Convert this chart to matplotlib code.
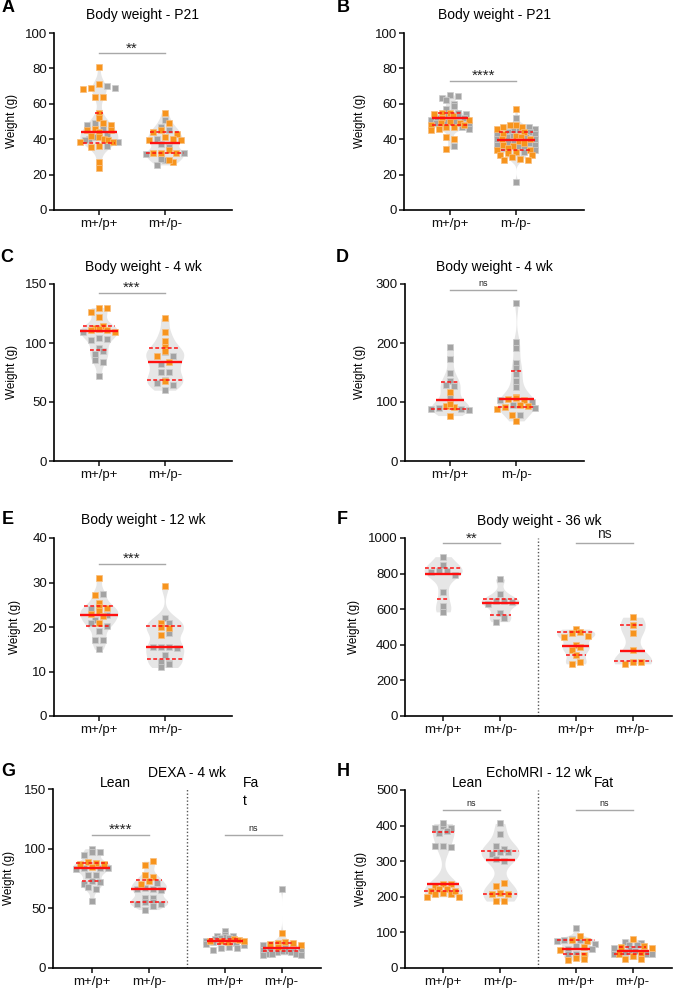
import numpy as np
import matplotlib
matplotlib.use("Agg")
import matplotlib.pyplot as plt

plt.rcParams['font.family'] = ['Liberation Sans', 'DejaVu Sans']

FIG_W, FIG_H = 674, 990

# ---------------- data ----------------
TWO = ["m+/p+", "m+/p-"]
TWO_B = ["m+/p+", "m-/p-"]
FOUR = ["m+/p+", "m+/p-", "m+/p+", "m+/p-"]

A_title = "Body weight - P21"
A_gray = [[70, 69, 49, 48, 45.5, 43, 41, 40, 39.5, 38.5, 36],
          [51, 47, 45, 40, 37.5, 35.5, 31.5, 32, 28, 29, 25.5]]
A_orange = [[81, 71, 69, 68.5, 64, 64, 55, 52, 49, 48, 46, 45, 45, 44, 42, 41, 40, 39.5,
             38.5, 38.5, 36, 35.5, 27, 24],
            [55, 49, 45, 43, 44, 41, 39.5, 39.5, 40, 34, 32.3, 32.3, 32.3, 27.3, 28.2]]
A_med, A_q1, A_q3 = [44, 38], [38, 32], [55, 44]

B_title = "Body weight - P21"
B_gray = [[65, 64.5, 63, 62, 60, 58.5, 57, 55, 54, 53, 53, 52, 52, 51, 50, 50, 49, 48, 47, 46, 36],
          [52, 47, 46, 45, 45, 44, 44, 43, 43, 42, 41, 41, 40, 40, 39, 38, 38, 37, 37, 36, 35, 35,
           34, 33, 16]]
B_orange = [[55, 55, 54, 53, 52, 51, 50, 49, 49, 48, 48, 47, 47, 46, 45, 41, 40, 34.5],
            [57, 48, 48, 47, 47, 46, 44, 43, 42, 41, 40, 40, 39, 38, 37, 36, 35, 34, 34, 33, 32,
             31, 31, 30, 29, 28, 28]]
B_med, B_q1, B_q3 = [52, 39.5], [48, 34], [55, 44]

C_title = "Body weight - 4 wk"
C_gray = [[109.5, 104.5, 103.5, 102.5, 96, 93, 91, 86, 84, 72],
          [92, 89, 82, 75.5, 75.5, 69, 66.5, 64.5, 60]]
C_orange = [[130, 130, 126.5, 122, 114, 113, 112, 111, 111, 109],
            [121, 109, 102, 97, 93, 89, 83.5, 68]]
C_med, C_q1, C_q3 = [110, 83.5], [94, 69], [114, 96]

D_title = "Body weight - 4 wk"
D_gray = [[194, 173, 149, 136, 129, 127, 109, 87.5, 86.5, 89, 87.5],
          [267, 201, 191, 165.5, 157, 147.5, 136, 126, 103.5, 99.5, 89, 95, 78]]
D_orange = [[117, 93, 92, 96.5, 77],
            [109, 103.5, 104.5, 106, 93, 91, 87.5, 95, 78, 68]]
D_med, D_q1, D_q3 = [103, 105], [88, 92], [134, 152]

E_title = "Body weight - 12 wk"
E_gray = [[27.5, 24, 22.7, 21.6, 20.9, 20.3, 19, 17, 17, 15],
          [22, 21, 18.6, 15.4, 15.2, 15.4, 15.4, 13.7, 12, 12.2, 11.7, 10.9]]
E_orange = [[31, 27.3, 25.3, 24.2, 24.5, 23, 23.5, 22.4, 21],
            [29.2, 20.9, 19.7, 19.9, 18.1]]
E_med, E_q1, E_q3 = [22.8, 15.4], [20.3, 12.9], [24.8, 20.3]

F_title = "Body weight - 36 wk"
F_gray = [[895, 850, 815, 807, 793, 815, 698, 620, 585],
          [770, 685, 645, 640, 645, 630, 578, 550, 530],
          [], []]
F_orange = [[], [],
            [488, 470, 468, 448, 445, 400, 390, 372, 340, 293, 302],
            [555, 510, 465, 368, 293, 306, 306]]
F_med, F_q1, F_q3 = [800, 635, 395, 365], [660, 565, 340, 308], [830, 660, 470, 510]

G_title = "DEXA - 4 wk"
G_sub = ["Lean", "Fa\nt"]
G_gray = [[100, 97, 97, 95, 84, 83.5, 83.5, 83, 78, 78, 73, 72, 70, 68, 66, 56],
          [71.5, 66, 66, 67, 65, 59, 59, 55, 54, 55.5, 54, 52, 49],
          [31, 28, 27, 27, 26, 25, 25, 24, 23, 22, 21, 20, 19, 18, 17, 17, 15],
          [66.5, 19, 18, 17, 16, 15, 15, 14, 14, 13, 13, 12, 12, 12, 11, 11]]
G_orange = [[88.5, 88, 87, 87, 85],
            [89.5, 86, 78, 76, 72.5, 70],
            [24, 23.5, 23, 23, 22.5, 22],
            [29.5, 22, 21, 21, 20, 19, 18]]
G_med, G_q1, G_q3 = [83.5, 66.5, 22.5, 17], [73, 55, 20, 14], [88, 74, 24.5, 21]

H_title = "EchoMRI - 12 wk"
H_sub = ["Lean", "Fat"]
H_gray = [[392, 399, 392, 406, 378, 386, 342, 341, 342],
          [406, 376, 343, 327, 320, 333, 327, 300, 305],
          [111, 82, 78, 78, 75, 68, 62, 54, 54, 40, 40],
          [73, 71, 64, 64, 55, 50, 47, 45, 40, 40, 40]]
H_orange = [[228, 217, 235, 237, 223, 223, 200, 207, 207, 200, 210, 215],
            [238, 231, 208, 211, 208, 188, 188],
            [90, 80, 77, 59, 50, 36, 29, 26, 22],
            [82, 62, 59, 55, 43, 40, 35, 26, 24]]
H_med, H_q1, H_q3 = [235, 302, 54, 47], [217, 208, 40, 40], [382, 329, 78, 60]

# ---------------- style ----------------
ORANGE = '#F7941D'
ORANGE_EDGE = '#F9BE7C'
GRAY = '#A3A3A3'
GRAY_EDGE = '#CDCDCD'
VIOLIN = '#E6E6E6'
RED = '#FF1010'
SIGC = '#A8A8A8'
HW_PX = 19.0
COL_PX = 8.0
ROW_PX = 4.5
MAX_SPREAD_PX = 19.0

fig = plt.figure(figsize=(FIG_W / 100, FIG_H / 100), dpi=100)


def px_rect(l, t, r, b):
    return [l / FIG_W, 1 - b / FIG_H, (r - l) / FIG_W, (b - t) / FIG_H]


def ftext(x, y, s, **kw):
    fig.text(x / FIG_W, 1 - y / FIG_H, s, **kw)


def row_offsets(vals, ppu_y):
    order = np.argsort(vals, kind='stable')
    offs = np.zeros(len(vals))
    rows, cur, start = [], [], None
    for idx in order:
        v = vals[idx]
        if start is None or (v - start) * ppu_y > ROW_PX:
            if cur:
                rows.append(cur)
            cur, start = [idx], v
        else:
            cur.append(idx)
    if cur:
        rows.append(cur)
    for r_i, row in enumerate(rows):
        n = len(row)
        step = COL_PX if n < 2 else min(COL_PX, 2 * MAX_SPREAD_PX / (n - 1))
        # mix order inside the row (alternate ends) so colours interleave
        mixed = row[0::2] + row[1::2][::-1]
        if r_i % 2:
            mixed = mixed[::-1]
        for i, idx in enumerate(mixed):
            offs[idx] = (i - (n - 1) / 2) * step
    return offs


def draw_panel(rect_px, ymax, yticks, xlim, positions, labels, gray, orange,
               med, q1, q3, sigs, divider=None):
    l, t, r, b = rect_px
    ax = fig.add_axes(px_rect(l, t, r, b))
    ppu_y = (b - t) / ymax
    ppu_x = (r - l) / (xlim[1] - xlim[0])
    for i, pos in enumerate(positions):
        vals = np.array(list(gray[i]) + list(orange[i]), float)
        kinds = np.array([0] * len(gray[i]) + [1] * len(orange[i]))
        sd = vals.std(ddof=1)
        bw = 0.6 * sd * len(vals) ** (-0.2)
        grid = np.linspace(vals.min(), vals.max(), 400)
        dens = np.exp(-0.5 * ((grid[None, :] - vals[:, None]) / bw) ** 2).sum(axis=0)
        hw = dens / dens.max() * HW_PX / ppu_x
        ax.fill_betweenx(grid, pos - hw, pos + hw, color=VIOLIN, lw=0, zorder=1)
        offs = row_offsets(vals, ppu_y) / ppu_x
        for k, face, edge in ((0, GRAY, GRAY_EDGE), (1, ORANGE, ORANGE_EDGE)):
            m = kinds == k
            if m.any():
                ax.plot(pos + offs[m], vals[m], ls='none', marker='s', ms=3.8,
                        mfc=face, mec=edge, mew=0.5, zorder=2)
        for y, ls, lw in ((med[i], '-', 1.7), (q1[i], (0, (2.5, 1.6)), 1.1),
                          (q3[i], (0, (2.5, 1.6)), 1.1)):
            w = np.interp(y, grid, hw)
            ax.plot([pos - w, pos + w], [y, y], color=RED, ls=ls, lw=lw, zorder=3,
                    solid_capstyle='butt')
    for x1, x2, y, txt, kind in sigs:
        ax.plot([x1, x2], [y, y], color=SIGC, lw=1.0, zorder=2, clip_on=False)
        if kind == 'star':
            fs, off = 11, 0.5
        elif kind == 'small':
            fs, off = 6.5, 3.0
        else:
            fs, off = 10, 3.5
        ax.annotate(txt, ((x1 + x2) / 2, y), xytext=(0, off), textcoords='offset points',
                    ha='center', va='baseline', fontsize=fs, color='#222222')
    if divider is not None:
        ax.axvline(divider, color='#555555', ls=(0, (1, 1.5)), lw=1.0, zorder=0)
    ax.set_xlim(*xlim)
    ax.set_ylim(0, ymax)
    ax.set_yticks(yticks)
    ax.set_xticks(positions)
    ax.set_xticklabels(labels)
    for s in ('top', 'right'):
        ax.spines[s].set_visible(False)
    for s in ('left', 'bottom'):
        ax.spines[s].set_linewidth(1.2)
    ax.tick_params(axis='both', direction='out', length=3.5, width=1.1, labelsize=9.5,
                   colors='#111111')
    ax.tick_params(axis='x', pad=2.5)
    ax.tick_params(axis='y', pad=1.5)
    ax.set_facecolor('none')
    return ax


two_x = (-0.68, 2.02)
four_x = (-0.67, 4.02)
four_pos = [0, 1, 2.33, 3.33]

draw_panel((54, 33, 232, 210), 100, [0, 20, 40, 60, 80, 100], two_x, [0, 1], TWO,
           A_gray, A_orange, A_med, A_q1, A_q3, [(0, 1, 88.7, '**', 'star')])
draw_panel((404, 33, 584, 210), 100, [0, 20, 40, 60, 80, 100], (-0.70, 2.03), [0, 1], TWO_B,
           B_gray, B_orange, B_med, B_q1, B_q3, [(0, 1, 72.9, '****', 'star')])
draw_panel((54, 284, 232, 461), 150, [0, 50, 100, 150], two_x, [0, 1], TWO,
           C_gray, C_orange, C_med, C_q1, C_q3, [(0, 1, 142.4, '***', 'star')])
draw_panel((405, 284, 584, 461), 300, [0, 100, 200, 300], two_x, [0, 1], TWO_B,
           D_gray, D_orange, D_med, D_q1, D_q3, [(0, 1, 290, 'ns', 'small')])
draw_panel((54, 538, 232, 716), 40, [0, 10, 20, 30, 40], two_x, [0, 1], TWO,
           E_gray, E_orange, E_med, E_q1, E_q3, [(0, 1, 34.2, '***', 'star')])
draw_panel((405, 538, 672, 716), 1000, [0, 200, 400, 600, 800, 1000], four_x, four_pos, FOUR,
           F_gray, F_orange, F_med, F_q1, F_q3,
           [(0, 1, 972, '**', 'star'), (2.33, 3.33, 972, 'ns', 'big')], divider=1.67)
draw_panel((53, 789, 321, 968), 150, [0, 50, 100, 150], (-0.68, 4.02), four_pos, FOUR,
           G_gray, G_orange, G_med, G_q1, G_q3,
           [(0, 1, 111.6, '****', 'star'), (2.33, 3.33, 111.6, 'ns', 'small')], divider=1.67)
draw_panel((405, 790, 672, 968), 500, [0, 100, 200, 300, 400, 500], four_x, four_pos, FOUR,
           H_gray, H_orange, H_med, H_q1, H_q3,
           [(0, 1, 444, 'ns', 'small'), (2.33, 3.33, 444, 'ns', 'small')], divider=1.67)

# titles
for x, y, s in ((143, 15, A_title), (494, 15, B_title), (143, 267, C_title),
                (494, 267, D_title), (143, 520, E_title), (539, 521, F_title),
                (187, 773, G_title), (539, 773, H_title)):
    ftext(x, y, s, ha='center', va='center', fontsize=10)

# sub-group headers
ftext(115, 783, G_sub[0], ha='center', va='center', fontsize=10)
ftext(243, 776, G_sub[1], ha='left', va='top', fontsize=10, linespacing=1.35)
ftext(467, 783, H_sub[0], ha='center', va='center', fontsize=10)
ftext(604, 783, H_sub[1], ha='center', va='center', fontsize=10)

# y labels
for x, y in ((12, 121), (360, 121), (12, 372), (360, 372), (15, 627), (354, 627),
             (9, 878), (361, 879)):
    ftext(x, y, "Weight (g)", ha='center', va='center', rotation=90, fontsize=8.5)

# panel letters
for x, y, s in ((8, 8, 'A'), (343, 8, 'B'), (7, 257, 'C'), (342, 257, 'D'),
                (8, 519, 'E'), (342, 519, 'F'), (8, 772, 'G'), (343, 772, 'H')):
    ftext(x, y, s, ha='center', va='center', fontsize=13, fontweight='bold')

fig.savefig("out.png", dpi=100, facecolor='white')
